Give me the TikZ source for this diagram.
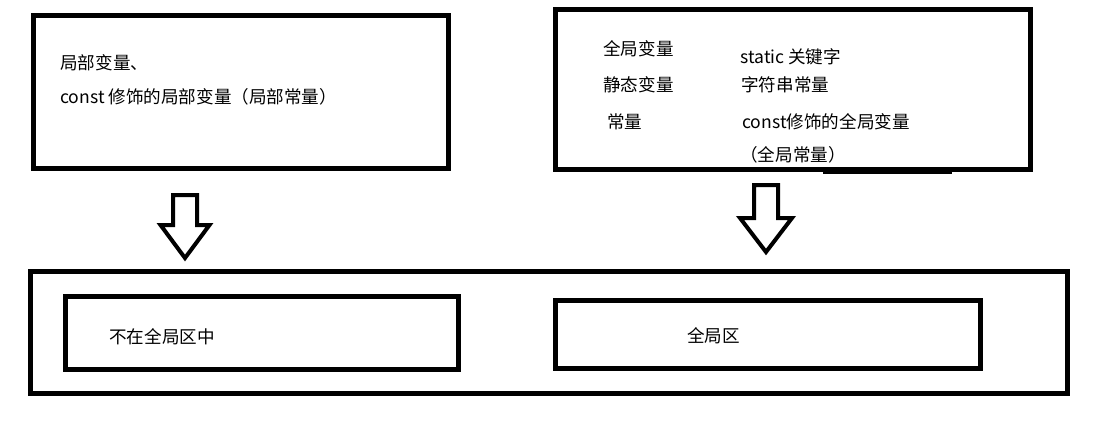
\documentclass[tikz,border=0pt]{standalone}
\usepackage{fontspec}
\setmainfont{Noto Sans CJK SC}
\usetikzlibrary{positioning}

\begin{document}
\begin{tikzpicture}[
    x=0.02cm, y=-0.02cm,
    box/.style={rectangle, draw, line width=0.1cm},
    blockarr/.style={draw, line width=0.08cm, line join=miter},
    txt/.style={font=\fontsize{10pt}{12pt}\selectfont, inner sep=0pt, anchor=west},
]
\useasboundingbox (0,0) rectangle (1115,440);

% Top boxes
\node[box, minimum width=8.30cm, minimum height=3.06cm] (locbox) at (241,92) {};
\node[box, minimum width=9.50cm, minimum height=3.20cm] (globox) at (793,89.5) {};
\draw[line width=0.1cm] (823,171.5) -- (952,171.5);

% Local variables
\node[txt] (locvar) at (60,63) {局部变量、};
\node[txt] (locconst) at (60,97) {const 修饰的局部变量（局部常量）};

% Global side
\node[txt] (gvar) at (603,49) {全局变量};
\node[txt] (svar) at (603,85) {静态变量};
\node[txt] (cvar) at (607,122) {常量};
\node[txt] (skey) at (740,57) {static 关键字};
\node[txt] (strc) at (741,85) {字符串常量};
\node[txt] (gconst) at (742,122) {const修饰的全局变量};
\node[txt] (gconst2) at (740,155) {（全局常量）};

% Block arrows
\draw[blockarr] (185,195) ++(-12,0) -- ++(24,0) -- ++(0,30) -- ++(12.5,0) -- ++(-24.5,33) -- ++(-24.5,-33) -- ++(12.5,0) -- cycle;
\draw[blockarr] (766,185) ++(-12,0) -- ++(24,0) -- ++(0,33) -- ++(14,0) -- ++(-26,34) -- ++(-26,-34) -- ++(14,0) -- cycle;

% Memory
\node[box, minimum width=20.74cm, minimum height=2.44cm] (mem) at (549,332.5) {};
\node[box, minimum width=7.86cm, minimum height=1.46cm] (notglob) at (262,333) {};
\node[box, minimum width=8.50cm, minimum height=1.36cm] (glob) at (768,334.5) {};
\node[txt] (notglobtxt) at (109,337) {不在全局区中};
\node[txt] (globtxt) at (687,336) {全局区};

\end{tikzpicture}
\end{document}
